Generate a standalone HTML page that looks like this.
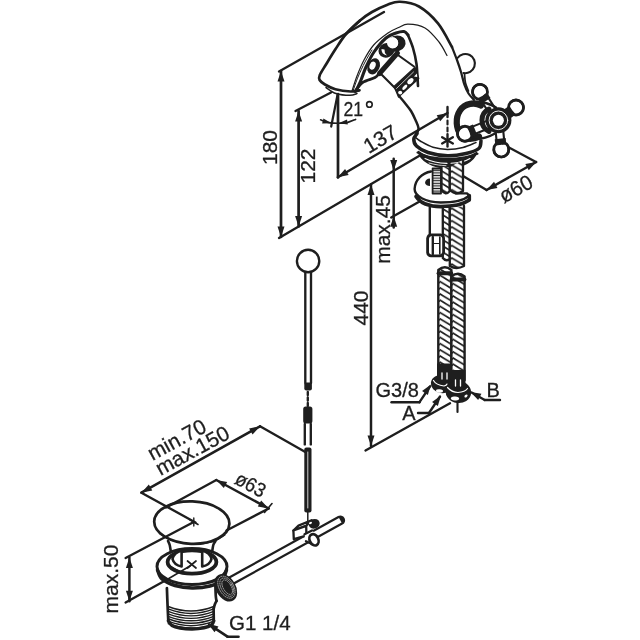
<!DOCTYPE html>
<html><head><meta charset="utf-8">
<style>
html,body{margin:0;padding:0;background:#fff;width:640px;height:640px;overflow:hidden}
svg{display:block;will-change:transform}
text{font-family:"Liberation Sans",sans-serif;fill:#1e1e1e;stroke:#1e1e1e;stroke-width:0.3}
</style></head>
<body>
<svg width="640" height="640" viewBox="0 0 640 640">
<defs>
<pattern id="hatch" x="440" y="0" width="12" height="6.2" patternUnits="userSpaceOnUse"><rect width="12" height="6.2" fill="#fff"/><path d="M-2,1.2 L14,11.2 M-2,-5 L14,5 M-2,-11.2 L14,-1.2" stroke="#1e1e1e" stroke-width="1.7" fill="none"/></pattern>
<pattern id="herr" x="453" y="2" width="12" height="6.2" patternUnits="userSpaceOnUse"><rect width="12" height="6.2" fill="#fff"/><path d="M-2,1.2 L14,11.2 M-2,-5 L14,5 M-2,-11.2 L14,-1.2" stroke="#1e1e1e" stroke-width="1.7" fill="none"/></pattern>
<pattern id="herr2" x="451.5" y="1" width="12" height="6.2" patternUnits="userSpaceOnUse"><rect width="12" height="6.2" fill="#fff"/><path d="M-2,1.2 L14,11.2 M-2,-5 L14,5 M-2,-11.2 L14,-1.2" stroke="#1e1e1e" stroke-width="1.7" fill="none"/></pattern>
<pattern id="thread" width="4" height="2.6" patternUnits="userSpaceOnUse">
<rect width="4" height="2.6" fill="#fff"/>
<line x1="0" y1="1.3" x2="4" y2="1.3" stroke="#1e1e1e" stroke-width="1.2"/>
</pattern>
</defs>
<g fill="none" stroke="#1e1e1e" stroke-width="2" stroke-linecap="round" stroke-linejoin="round">
<line x1="281" y1="237" x2="281" y2="71" stroke-width="2.71" />
<path d="M281.00,237.00 L277.50,226.50 L284.50,226.50 z" fill="#1e1e1e" stroke="none"/>
<path d="M281.00,71.00 L284.50,81.50 L277.50,81.50 z" fill="#1e1e1e" stroke="none"/>
<line x1="279" y1="71.5" x2="384" y2="12" stroke-width="2.36" />
<line x1="279" y1="238" x2="419" y2="156" stroke-width="2.36" />
<line x1="298.6" y1="226.5" x2="298.6" y2="111" stroke-width="2.71" />
<path d="M298.60,226.50 L295.10,216.00 L302.10,216.00 z" fill="#1e1e1e" stroke="none"/>
<path d="M298.60,111.00 L302.10,121.50 L295.10,121.50 z" fill="#1e1e1e" stroke="none"/>
<line x1="295.5" y1="111" x2="331" y2="92.5" stroke-width="2.36" />
<line x1="338" y1="94" x2="338" y2="177.5" stroke-width="2.71" />
<line x1="337.6" y1="94.5" x2="331.2" y2="126.5" stroke-width="2.24" />
<path d="M320.60,119.80 C322.00,120.27 326.10,122.02 329.00,122.60 C331.90,123.18 335.00,123.30 338.00,123.30 C341.00,123.30 344.07,123.25 347.00,122.60 C349.93,121.95 354.17,119.93 355.60,119.40" stroke-width="1.6" fill="none" />
<path d="M331.50,123.20 L322.14,123.48 L323.43,118.44 z" fill="#1e1e1e" stroke="none"/>
<path d="M338.50,123.30 L347.04,119.45 L347.78,124.60 z" fill="#1e1e1e" stroke="none"/>
<line x1="337.8" y1="177.2" x2="447.5" y2="113" stroke-width="2.48" />
<path d="M337.80,177.20 L345.09,168.88 L348.63,174.92 z" fill="#1e1e1e" stroke="none"/>
<path d="M447.50,113.00 L440.21,121.32 L436.67,115.28 z" fill="#1e1e1e" stroke="none"/>
<line x1="447.5" y1="107" x2="447.5" y2="117" stroke-width="2.36" />
<line x1="447.5" y1="120.5" x2="447.5" y2="132" stroke-width="2.12" stroke-dasharray="4,3"/>
<line x1="447.5" y1="134.1" x2="447.5" y2="146.5" stroke-width="2.36" />
<line x1="442.13" y1="137.2" x2="452.87" y2="143.4" stroke-width="2.36" />
<line x1="452.87" y1="137.2" x2="442.13" y2="143.4" stroke-width="2.36" />
<line x1="371" y1="184.5" x2="371" y2="446" stroke-width="2.48" />
<path d="M371.00,184.50 L374.50,195.00 L367.50,195.00 z" fill="#1e1e1e" stroke="none"/>
<path d="M371.00,446.00 L367.50,435.50 L374.50,435.50 z" fill="#1e1e1e" stroke="none"/>
<line x1="365.5" y1="450.5" x2="450" y2="403.3" stroke-width="2.36" />
<line x1="393.7" y1="158.7" x2="393.7" y2="227.5" stroke-width="2.48" />
<path d="M393.70,170.60 L390.20,160.10 L397.20,160.10 z" fill="#1e1e1e" stroke="none"/>
<path d="M393.70,216.30 L397.20,226.80 L390.20,226.80 z" fill="#1e1e1e" stroke="none"/>
<line x1="391.2" y1="217.5" x2="420" y2="201.2" stroke-width="2.36" />
<line x1="486.6" y1="190" x2="536.2" y2="162" stroke-width="2.48" />
<path d="M486.60,190.00 L494.02,181.79 L497.46,187.89 z" fill="#1e1e1e" stroke="none"/>
<path d="M536.20,162.00 L528.78,170.21 L525.34,164.11 z" fill="#1e1e1e" stroke="none"/>
<line x1="536" y1="162" x2="508" y2="147" stroke-width="2.36" />
<line x1="486.6" y1="190" x2="463" y2="176" stroke-width="2.36" />
<path d="M346.00,34.00 C348.33,31.75 355.67,24.17 360.00,20.50 C364.33,16.83 367.42,14.63 372.00,12.00 C376.58,9.37 382.83,6.40 387.50,4.70 C392.17,3.00 394.75,1.50 400.00,1.80 C405.25,2.10 412.67,2.90 419.00,6.50 C425.33,10.10 432.50,16.65 438.00,23.40 C443.50,30.15 449.67,43.07 452.00,47.00" stroke-width="2.6" fill="none" />
<path d="M360.00,20.50 C357.67,22.75 350.10,29.20 346.00,34.00 C341.90,38.80 338.73,44.22 335.40,49.30 C332.07,54.38 328.60,60.22 326.00,64.50 C323.40,68.78 320.87,72.42 319.80,75.00 C318.73,77.58 318.75,78.42 319.60,80.00 C320.45,81.58 322.27,82.97 324.90,84.50 C327.53,86.03 331.10,88.03 335.40,89.20 C339.70,90.37 346.68,91.32 350.70,91.50 C354.72,91.68 358.03,90.50 359.50,90.30" stroke-width="2.71" fill="none" />
<path d="M326.00,87.50 C327.67,88.50 332.00,92.20 336.00,93.50 C340.00,94.80 346.50,95.30 350.00,95.30 C353.50,95.30 355.83,93.80 357.00,93.50" stroke-width="1.5" fill="none" />
<path d="M356.00,91.00 C356.83,89.17 359.33,84.00 361.00,80.00 C362.67,76.00 363.83,71.67 366.00,67.00 C368.17,62.33 370.67,56.83 374.00,52.00 C377.33,47.17 382.33,41.17 386.00,38.00 C389.67,34.83 393.00,34.08 396.00,33.00 C399.00,31.92 402.00,31.17 404.00,31.50 C406.00,31.83 407.33,34.42 408.00,35.00" stroke-width="3.07" fill="none" />
<path d="M408.00,35.00 C408.83,37.17 411.58,43.17 413.00,48.00 C414.42,52.83 415.67,57.67 416.50,64.00 C417.33,70.33 417.75,82.33 418.00,86.00" stroke-width="2.6" fill="none" />
<path d="M352.00,91.00 C352.83,88.50 355.00,81.17 357.00,76.00 C359.00,70.83 361.22,65.17 364.00,60.00 C366.78,54.83 369.70,49.50 373.70,45.00 C377.70,40.50 383.83,35.92 388.00,33.00 C392.17,30.08 395.37,28.97 398.70,27.50 C402.03,26.03 403.62,24.12 408.00,24.20 C412.38,24.28 419.83,25.03 425.00,28.00 C430.17,30.97 435.33,37.42 439.00,42.00 C442.67,46.58 445.67,53.25 447.00,55.50" stroke-width="1.2" fill="none" />
<path d="M353.00,91.00 C353.83,88.67 356.00,81.83 358.00,77.00 C360.00,72.17 362.67,66.50 365.00,62.00 C367.33,57.50 370.83,52.00 372.00,50.00" stroke-width="1.0" fill="none" />
<path d="M355.00,91.50 C356.25,90.00 359.17,84.83 362.50,82.50 C365.83,80.17 372.25,79.00 375.00,77.50 C377.75,76.00 378.33,74.17 379.00,73.50" stroke-width="2.83" fill="none" />
<ellipse cx="396.3" cy="43.6" rx="9.4" ry="8" transform="rotate(-20 396.3 43.6)" stroke-width="0" fill="#1e1e1e" />
<ellipse cx="392.6" cy="42.9" rx="5.6" ry="5.6" transform="rotate(0 392.6 42.9)" stroke-width="0" fill="#fff" />
<ellipse cx="386.5" cy="50.3" rx="8.2" ry="7.2" transform="rotate(-25 386.5 50.3)" stroke-width="0" fill="#1e1e1e" />
<path d="M381.5,49 Q381,54 387,55.5 Q384,52.5 384.5,49.5 z" fill="#fff" stroke="none"/>
<ellipse cx="392.6" cy="42.9" rx="5.6" ry="5.6" transform="rotate(0 392.6 42.9)" stroke-width="0" fill="#fff" />
<ellipse cx="373.6" cy="66.3" rx="6" ry="8.4" transform="rotate(22 373.6 66.3)" stroke-width="0" fill="#1e1e1e" />
<ellipse cx="372.6" cy="65.6" rx="2.9" ry="4.2" transform="rotate(22 372.6 65.6)" stroke-width="0" fill="#fff" />
<line x1="379.5" y1="73.5" x2="397.5" y2="53" stroke-width="4.96" />
<line x1="396.5" y1="54" x2="414" y2="66.5" stroke-width="2.12" />
<line x1="381" y1="74" x2="396" y2="89" stroke-width="2.12" />
<path d="M394,86.5 L415,67.2 L418.8,78.5 L398.5,97 z" fill="#1e1e1e" stroke="#1e1e1e" stroke-width="1.2"/>
<line x1="396.5" y1="88.5" x2="413.5" y2="72" stroke-width="0.7" stroke="#fff"/>
<ellipse cx="400.2" cy="92.6" rx="2" ry="1.9" transform="rotate(0 400.2 92.6)" stroke-width="0" fill="#fff" />
<ellipse cx="404.8" cy="87.3" rx="3.2" ry="1.5" transform="rotate(-48 404.8 87.3)" stroke-width="0" fill="#fff" />
<ellipse cx="410.4" cy="81.1" rx="3.6" ry="2.3" transform="rotate(-45 410.4 81.1)" stroke-width="0" fill="#fff" />
<path d="M414,76.5 L417,73.5 L417.2,77 z" fill="#fff" stroke="none"/>
<path d="M399.00,96.00 C399.92,97.08 402.50,100.00 404.50,102.50 C406.50,105.00 409.17,108.08 411.00,111.00 C412.83,113.92 414.25,117.17 415.50,120.00 C416.75,122.83 418.25,125.75 418.50,128.00 C418.75,130.25 417.25,132.58 417.00,133.50" stroke-width="2.48" fill="none" />
<path d="M457.5,58 A9.6,9.6 0 1 1 463.5,73" stroke-width="2.1"/>
<path d="M464.50,74.00 C464.67,75.50 464.83,80.17 465.50,83.00 C466.17,85.83 468.00,89.67 468.50,91.00" stroke-width="1.7" fill="none" />
<path d="M452.00,47.00 C452.83,49.17 455.50,55.83 457.00,60.00 C458.50,64.17 459.75,67.83 461.00,72.00 C462.25,76.17 463.25,81.42 464.50,85.00 C465.75,88.58 466.92,91.00 468.50,93.50 C470.08,96.00 473.08,98.92 474.00,100.00" stroke-width="2.24" fill="none" />
<path d="M417.00,133.50 C416.47,134.42 413.88,136.92 413.80,139.00 C413.72,141.08 414.13,143.75 416.50,146.00 C418.87,148.25 422.83,150.87 428.00,152.50 C433.17,154.13 441.17,155.63 447.50,155.80 C453.83,155.97 460.78,154.72 466.00,153.50 C471.22,152.28 476.30,150.58 478.80,148.50 C481.30,146.42 480.63,142.25 481.00,141.00" stroke-width="3.54" fill="none" />
<path d="M415.00,137.00 C416.00,137.75 418.00,139.78 421.00,141.50 C424.00,143.22 428.58,145.98 433.00,147.30 C437.42,148.62 442.50,149.37 447.50,149.40 C452.50,149.43 458.25,148.65 463.00,147.50 C467.75,146.35 473.83,143.33 476.00,142.50" stroke-width="1.5" fill="none" />
<path d="M417.50,152.50 C419.58,153.25 425.00,155.93 430.00,157.00 C435.00,158.07 441.67,158.85 447.50,158.90 C453.33,158.95 460.00,158.15 465.00,157.30 C470.00,156.45 475.42,154.38 477.50,153.80" stroke-width="2.12" fill="none" />
<path d="M418.5,151.5 C420,160 432,167.5 447.5,168 C463,167.5 474,161 476.5,152.5 C470,157.5 460,159.5 447.5,159.8 C434,159.5 424,156.5 418.5,151.5 z" fill="#1e1e1e" stroke="#1e1e1e" stroke-width="1.5"/>
<path d="M425,158.5 C432,162 440,163.2 447,163.4" stroke="#fff" stroke-width="1.1"/>
<path d="M451,163.2 C459,163 465,161.5 470,158.5" stroke="#fff" stroke-width="1.1"/>
<path d="M429,163 C436,165 442,165.6 446,165.7" stroke="#fff" stroke-width="0.8"/>
<path d="M481,105.5 C475,102 465,103 460,110.5 C455,118 456,129 461,135 C465,139.5 472,140 479,136.5" stroke-width="6.2" fill="#fff"/>
<path d="M471,102 C480,101 489,103 496,107.5" stroke-width="2.4"/>
<path d="M474,139.5 C482,139 489,137 495,133.5" stroke-width="2.4"/>
<path d="M489,109 A12.5,12.5 0 0 0 489,131.5" stroke-width="5"/>
<line x1="481.7" y1="101.52" x2="489.23" y2="113.13" stroke-width="2.12" />
<line x1="488.08" y1="97.39" x2="495.61" y2="109.0" stroke-width="2.12" />
<circle cx="480" cy="91.9" r="7.5" stroke-width="2.83" fill="#fff" />
<line x1="482.39" y1="95.59" x2="485.87" y2="100.96" stroke-width="11" stroke-linecap="butt"/>
<circle cx="479.67" cy="91.4" r="5.2" stroke-width="0" fill="#fff" />
<path d="M473.71,95.98 A7.5,7.5 0 1 1 486.29,87.82" stroke-width="2.4" fill="none"/>
<line x1="506.49" y1="109.72" x2="505.06" y2="110.76" stroke-width="2.12" />
<line x1="510.96" y1="115.87" x2="509.53" y2="116.9" stroke-width="2.12" />
<circle cx="516" cy="107.5" r="7.5" stroke-width="2.83" fill="#fff" />
<line x1="512.44" y1="110.09" x2="507.27" y2="113.85" stroke-width="11" stroke-linecap="butt"/>
<circle cx="516.49" cy="107.15" r="5.2" stroke-width="0" fill="#fff" />
<path d="M511.59,101.43 A7.5,7.5 0 1 1 520.41,113.57" stroke-width="2.4" fill="none"/>
<line x1="504.15" y1="140.07" x2="503.25" y2="130.88" stroke-width="2.12" />
<line x1="496.59" y1="140.81" x2="495.69" y2="131.62" stroke-width="2.12" />
<circle cx="501.25" cy="149.4" r="7.5" stroke-width="2.83" fill="#fff" />
<line x1="500.82" y1="145.02" x2="500.20" y2="138.65" stroke-width="11" stroke-linecap="butt"/>
<circle cx="501.31" cy="150.0" r="5.2" stroke-width="0" fill="#fff" />
<path d="M508.71,148.67 A7.5,7.5 0 1 1 493.79,150.13" stroke-width="2.4" fill="none"/>
<line x1="474.77" y1="133.91" x2="489.62" y2="127.93" stroke-width="2.12" />
<line x1="471.93" y1="126.86" x2="486.78" y2="120.88" stroke-width="2.12" />
<circle cx="465" cy="133.75" r="7.5" stroke-width="2.83" fill="#fff" />
<line x1="469.08" y1="132.11" x2="475.02" y2="129.72" stroke-width="11" stroke-linecap="butt"/>
<circle cx="464.44" cy="133.97" r="5.2" stroke-width="0" fill="#fff" />
<path d="M467.80,140.71 A7.5,7.5 0 1 1 462.20,126.79" stroke-width="2.4" fill="none"/>
<circle cx="498.4" cy="120.3" r="13" stroke-width="0" fill="#1e1e1e" />
<circle cx="498.4" cy="120.3" r="9.3" stroke-width="0.9" fill="none" stroke="#fff"/>
<circle cx="498.4" cy="120.3" r="5.5" stroke-width="0" fill="#fff" />
<path d="M431,171.5 C422,173 415,180 414.6,189 C414.6,196 425,202 440.8,202.5 C452,202.5 463,201 469.3,195.6 L467,193.4 L456,193.4 L441,193.4 L441,171 z" fill="#fff" stroke="none"/>
<path d="M431,171.5 C422,173 415,180 414.6,189 C414.6,196 425,202 440.8,202.5 C452,202.5 463,201 469.3,195.6 L467,193.4 L456,193.4" stroke-width="2.4" fill="none"/>
<rect x="432.6" y="168.5" width="8.4" height="25" fill="url(#thread)" stroke-width="1.8"/>
<path d="M441.5,167 L441.5,190 Q445.5,196 449.8,191 L449.8,167" fill="url(#hatch)" stroke-width="2.3"/>
<path d="M449.8,167 L449.8,190 Q456,196 463,191 L463,160" fill="url(#herr2)" stroke-width="2.3"/>
<path d="M416,196.5 C421,204 431,206.6 440.8,206.6 C452,206.6 463,204.5 469.3,200 L469.3,195.6" stroke-width="3.6" fill="none"/>
<path d="M425,183 Q425.5,178.5 430,178.5 L430,186 Q426,186 425,183 z" fill="#1e1e1e" stroke="none"/>
<path d="M429.8,207.5 L429.8,236" stroke-width="2.4"/>
<path d="M442.8,208 L442.8,258 Q446,262 449.8,259 L449.8,208" fill="url(#hatch)" stroke-width="2.3"/>
<path d="M449.8,208 L449.8,266 Q456.5,270 464,266 L464,206" fill="url(#herr2)" stroke-width="2.3"/>
<path d="M427.6,238.5 Q428,235 431,234.8 L440.5,234.8 Q443.6,235 443.6,238.5 L443.6,252.5 Q443,255.6 440,255.8 L431,255.8 Q428,255.6 427.6,252.5 z" fill="#fff" stroke-width="2.8"/>
<line x1="432.8" y1="237" x2="432.8" y2="254" stroke-width="2.36" />
<line x1="439.8" y1="237" x2="439.8" y2="254" stroke-width="1.6" />
<line x1="433" y1="243.5" x2="439.5" y2="243.5" stroke-width="1.0" />
<path d="M438.3,372 L438.3,270 Q444.9,264.5 451.4,270 L451.4,372" fill="url(#hatch)" stroke-width="2.4"/>
<line x1="438.6" y1="273.2" x2="451.2" y2="273.2" stroke-width="4.01" />
<path d="M451.4,380 L451.4,276.5 Q458,271 464.6,276.5 L464.6,380" fill="url(#herr)" stroke-width="2.4"/>
<line x1="451.6" y1="279.6" x2="464.4" y2="279.6" stroke-width="4.01" />
<rect x="437" y="363.5" width="14.8" height="18" fill="#1e1e1e" stroke="none"/>
<rect x="450.5" y="370" width="15" height="18" fill="#1e1e1e" stroke="none"/>
<ellipse cx="442" cy="384" rx="11.2" ry="9.2" transform="rotate(8 442 384)" stroke-width="0" fill="#1e1e1e" />
<ellipse cx="458.4" cy="392" rx="12.8" ry="11" transform="rotate(8 458.4 392)" stroke-width="0" fill="#1e1e1e" />
<path d="M433.5,380.5 Q436,385 444,386 Q446.5,385.5 447,384" stroke="#fff" stroke-width="1.2"/>
<path d="M447.5,387.5 Q452,392.5 458,392.5 Q465,392 467.5,388.5" stroke="#fff" stroke-width="1.2"/>
<ellipse cx="439.5" cy="391" rx="3.6" ry="1.7" transform="rotate(5 439.5 391)" stroke-width="0" fill="#fff" />
<ellipse cx="455" cy="398.5" rx="4.2" ry="1.9" transform="rotate(5 455 398.5)" stroke-width="0" fill="#fff" />
<ellipse cx="466" cy="396" rx="1.8" ry="1.2" transform="rotate(-40 466 396)" stroke-width="0" fill="#fff" />
<line x1="442" y1="373" x2="442" y2="379" stroke-width="1.3" stroke="#fff"/>
<line x1="447" y1="373" x2="447" y2="379" stroke-width="1.3" stroke="#fff"/>
<line x1="455.5" y1="380" x2="455.5" y2="386" stroke-width="1.3" stroke="#fff"/>
<line x1="460.5" y1="380" x2="460.5" y2="386" stroke-width="1.3" stroke="#fff"/>
<line x1="457.5" y1="403" x2="457.5" y2="412" stroke-width="2.12" />
<line x1="391.5" y1="402.2" x2="419.5" y2="402.2" stroke-width="2.36" />
<line x1="419.5" y1="402.2" x2="430" y2="386.5" stroke-width="2.36" />
<path d="M431.00,384.50 L427.80,395.10 L422.09,391.06 z" fill="#1e1e1e" stroke="none"/>
<line x1="418" y1="413" x2="429" y2="413" stroke-width="2.36" />
<line x1="429" y1="413" x2="440" y2="396.5" stroke-width="2.36" />
<path d="M441.00,395.50 L437.80,406.10 L432.09,402.06 z" fill="#1e1e1e" stroke="none"/>
<line x1="500" y1="400" x2="484.7" y2="400" stroke-width="2.36" />
<line x1="484.7" y1="400" x2="471.6" y2="392.5" stroke-width="2.36" />
<path d="M470.50,392.00 L481.42,393.79 L478.16,399.99 z" fill="#1e1e1e" stroke="none"/>
<circle cx="308.1" cy="261" r="11.2" stroke-width="2.36" fill="none" />
<line x1="305.3" y1="272.5" x2="305.3" y2="383" stroke-width="2.36" />
<line x1="311" y1="272.5" x2="311" y2="383" stroke-width="2.36" />
<rect x="304.3" y="382.5" width="7.6" height="8" rx="2" fill="#1e1e1e" stroke="none"/>
<line x1="307.8" y1="392" x2="307.8" y2="406" stroke-width="2.36" stroke-dasharray="3,2.5"/>
<rect x="303.2" y="406.5" width="9.2" height="17" rx="2.5" fill="#1e1e1e" stroke="none"/>
<line x1="304.8" y1="424" x2="304.8" y2="444.4" stroke-width="2.36" />
<line x1="310.8" y1="424" x2="310.8" y2="444.4" stroke-width="2.36" />
<rect x="304.3" y="447.5" width="7.2" height="65" rx="2" fill="#1e1e1e" stroke="none"/>
<line x1="307.8" y1="452" x2="307.8" y2="508" stroke-width="0.8" stroke="#fff"/>
<line x1="307.8" y1="512" x2="307.8" y2="521" stroke-width="1.5" />
<line x1="141.4" y1="492.7" x2="260" y2="426.3" stroke-width="2.48" />
<path d="M141.40,492.70 L148.85,484.52 L152.27,490.62 z" fill="#1e1e1e" stroke="none"/>
<path d="M260.00,426.30 L252.55,434.48 L249.13,428.38 z" fill="#1e1e1e" stroke="none"/>
<line x1="260" y1="426.3" x2="305.3" y2="452" stroke-width="2.36" />
<line x1="141.4" y1="492.7" x2="195.5" y2="522.5" stroke-width="2.36" />
<line x1="216.3" y1="480" x2="268.7" y2="508.5" stroke-width="2.48" />
<path d="M216.30,480.00 L227.20,481.94 L223.85,488.09 z" fill="#1e1e1e" stroke="none"/>
<path d="M268.70,508.50 L257.80,506.56 L261.15,500.41 z" fill="#1e1e1e" stroke="none"/>
<line x1="216.3" y1="480" x2="166" y2="507.5" stroke-width="2.36" />
<line x1="268.7" y1="508.5" x2="226.5" y2="530.5" stroke-width="2.36" />
<line x1="264.5" y1="512.5" x2="272" y2="503.5" stroke-width="1.6" />
<line x1="129.4" y1="557.5" x2="129.4" y2="601.2" stroke-width="2.48" />
<path d="M129.40,557.50 L132.90,568.00 L125.90,568.00 z" fill="#1e1e1e" stroke="none"/>
<path d="M129.40,601.20 L125.90,590.70 L132.90,590.70 z" fill="#1e1e1e" stroke="none"/>
<line x1="125.6" y1="558" x2="193.75" y2="522" stroke-width="2.36" />
<line x1="125.6" y1="602.5" x2="168" y2="579" stroke-width="2.36" />
<ellipse cx="191.8" cy="522.6" rx="37.6" ry="21.2" transform="rotate(2 191.8 522.6)" stroke-width="2.71" fill="none" />
<path d="M160.00,534.00 C162.00,535.08 166.67,538.80 172.00,540.50 C177.33,542.20 185.33,543.95 192.00,544.20 C198.67,544.45 206.50,543.53 212.00,542.00 C217.50,540.47 222.83,536.17 225.00,535.00" stroke-width="1.2" fill="none" />
<line x1="189.5" y1="519.5" x2="198" y2="524.5" stroke-width="1.6" />
<line x1="193.8" y1="518" x2="193.8" y2="526" stroke-width="1.4" />
<path d="M168.00,541.00 C168.28,541.67 169.20,543.05 169.70,545.00 C170.20,546.95 170.78,551.42 171.00,552.70" stroke-width="2.6" fill="none" />
<path d="M215.50,541.00 C215.13,541.67 213.88,543.05 213.30,545.00 C212.72,546.95 212.22,551.42 212.00,552.70" stroke-width="2.6" fill="none" />
<ellipse cx="192" cy="566.5" rx="35" ry="18" transform="rotate(0 192 566.5)" stroke-width="2.95" fill="#fff" />
<path d="M157.50,570.00 C158.25,571.50 159.08,576.42 162.00,579.00 C164.92,581.58 170.00,584.00 175.00,585.50 C180.00,587.00 186.17,587.92 192.00,588.00 C197.83,588.08 205.00,587.33 210.00,586.00 C215.00,584.67 219.25,582.67 222.00,580.00 C224.75,577.33 225.75,571.67 226.50,570.00" stroke-width="3.54" fill="none" />
<path d="M159.00,574.00 C160.83,575.17 164.50,579.17 170.00,581.00 C175.50,582.83 184.67,584.83 192.00,585.00 C199.33,585.17 208.50,583.83 214.00,582.00 C219.50,580.17 223.17,575.33 225.00,574.00" stroke-width="1.0" fill="none" />
<ellipse cx="192" cy="562" rx="24.4" ry="11.6" transform="rotate(0 192 562)" stroke-width="3.78" fill="#fff" />
<path d="M170.00,566.00 C171.67,566.92 176.33,570.33 180.00,571.50 C183.67,572.67 187.83,573.00 192.00,573.00 C196.17,573.00 201.33,572.67 205.00,571.50 C208.67,570.33 212.50,566.92 214.00,566.00" stroke-width="1.3" fill="none" />
<path d="M181.6,550.5 L181.6,566.5 Q174,565 172.5,559 Q174,552.5 181.6,550.5 z" stroke-width="2.6" fill="#fff"/>
<path d="M202.2,550.5 L202.2,566.5 Q210,565 211.5,559 Q210,552.5 202.2,550.5 z" stroke-width="2.6" fill="#fff"/>
<line x1="187.5" y1="561" x2="196" y2="568" stroke-width="1.7" />
<line x1="196" y1="561" x2="187.5" y2="568" stroke-width="1.7" />
<line x1="168" y1="579" x2="190" y2="566" stroke-width="1.6" />
<path d="M166.90,588.00 C167.00,590.67 167.27,598.50 167.50,604.00 C167.73,609.50 168.17,618.17 168.30,621.00" stroke-width="2.71" fill="none" />
<path d="M215.40,586.00 C215.47,587.67 215.62,593.50 215.80,596.00 C215.98,598.50 216.38,600.17 216.50,601.00" stroke-width="2.71" fill="none" />
<path d="M216.50,601.00 C216.22,601.58 215.28,603.17 214.80,604.50 C214.32,605.83 213.80,608.25 213.60,609.00" stroke-width="2.71" fill="none" />
<line x1="213.6" y1="609" x2="213.8" y2="621" stroke-width="2.71" />
<path d="M168.2,606.50 Q191,615.50 213.8,606.50" stroke-width="1.35"/>
<path d="M168.2,608.95 Q191,617.95 213.8,608.95" stroke-width="1.35"/>
<path d="M168.2,611.40 Q191,620.40 213.8,611.40" stroke-width="1.35"/>
<path d="M168.2,613.85 Q191,622.85 213.8,613.85" stroke-width="1.35"/>
<path d="M168.2,616.30 Q191,625.30 213.8,616.30" stroke-width="1.35"/>
<path d="M168.2,618.75 Q191,627.75 213.8,618.75" stroke-width="1.35"/>
<path d="M168.2,621.20 Q191,630.20 213.8,621.20" stroke-width="1.35"/>
<path d="M168.2,623.65 Q191,632.65 213.8,623.65" stroke-width="1.35"/>
<path d="M168.30,621.00 C168.92,621.75 170.05,624.33 172.00,625.50 C173.95,626.67 176.67,627.42 180.00,628.00 C183.33,628.58 188.00,629.00 192.00,629.00 C196.00,629.00 200.83,628.58 204.00,628.00 C207.17,627.42 209.37,626.67 211.00,625.50 C212.63,624.33 213.33,621.75 213.80,621.00" stroke-width="3.3" fill="none" />
<path d="M231.5,580.5 L340.3,520.3" stroke-width="9.6"/>
<path d="M231.5,580.5 L340.3,520.3" stroke-width="5.2" stroke="#fff" stroke-linecap="butt"/>
<ellipse cx="225.8" cy="587.8" rx="10" ry="14.8" transform="rotate(-30 225.8 587.8)" stroke-width="0" fill="#1e1e1e" />
<ellipse cx="226.4" cy="587.2" rx="7.2" ry="12" transform="rotate(-30 226.4 587.2)" stroke-width="0.8" fill="none" stroke="#bbb" stroke-dasharray="0.9,1.3"/>
<ellipse cx="226.8" cy="587.2" rx="5.6" ry="10" transform="rotate(-30 226.8 587.2)" stroke-width="0.8" fill="none" stroke="#bbb" stroke-dasharray="0.9,1.3"/>
<ellipse cx="227.20000000000002" cy="587.2" rx="4" ry="8" transform="rotate(-30 227.20000000000002 587.2)" stroke-width="0.8" fill="none" stroke="#bbb" stroke-dasharray="0.9,1.3"/>
<ellipse cx="314.2" cy="523.8" rx="5.6" ry="4.8" transform="rotate(-20 314.2 523.8)" stroke-width="0" fill="#1e1e1e" />
<path d="M293.4,530.5 L298.5,525.6 L311.5,520.3 L306.2,525.8 z" fill="#fff" stroke-width="2.3"/>
<path d="M293.4,530.5 L306.2,525.8 L306.4,535.5 L293.8,539.2 z" fill="#fff" stroke-width="2.3"/>
<ellipse cx="310.5" cy="523" rx="1.6" ry="1.0" transform="rotate(-20 310.5 523)" stroke-width="0" fill="#fff" />
<path d="M304.5,534.2 L312,530.2 L318,536.5 L311,543.8 L305.5,541 z" fill="#fff" stroke="none"/>
<line x1="304.5" y1="534.2" x2="312" y2="530.5" stroke-width="2.36" />
<line x1="306" y1="541.2" x2="312.5" y2="544.2" stroke-width="2.36" />
<ellipse cx="314" cy="539.8" rx="4.3" ry="5.9" transform="rotate(-25 314 539.8)" stroke-width="2.71" fill="#fff" />
<path d="M207.80,623.40 L218.45,626.40 L214.52,632.19 z" fill="#1e1e1e" stroke="none"/>
<line x1="209" y1="624.3" x2="227.5" y2="636.7" stroke-width="2.6" />
<line x1="227.5" y1="636.7" x2="238.5" y2="636.7" stroke-width="2.6" />
<circle cx="369.4" cy="104.4" r="2.8" stroke-width="1.6" fill="none" />
</g>
<text transform="translate(277.3,147.5) rotate(-90) scale(1.0,1)" font-size="21" text-anchor="middle">180</text>
<text transform="translate(315.2,166) rotate(-90) scale(1.0,1)" font-size="21" text-anchor="middle">122</text>
<text transform="translate(353.2,115.6) rotate(0) scale(0.86,1)" font-size="20.5" text-anchor="middle">21</text>
<text transform="translate(368.8,154) rotate(-30.5) scale(1.0,1)" font-size="21" text-anchor="start">137</text>
<text transform="translate(368.3,308) rotate(-90) scale(1.0,1)" font-size="21" text-anchor="middle">440</text>
<text transform="translate(389.5,229.4) rotate(-90) scale(1.0,1)" font-size="21" text-anchor="middle">max.45</text>
<text transform="translate(504,203.5) rotate(-29) scale(0.97,1)" font-size="21" text-anchor="start">ø60</text>
<text transform="translate(397.2,397) rotate(0) scale(1.0,1)" font-size="20" text-anchor="middle">G3/8</text>
<text transform="translate(409,419.5) rotate(0) scale(1.0,1)" font-size="20" text-anchor="middle">A</text>
<text transform="translate(493.2,396.6) rotate(0) scale(1.0,1)" font-size="20" text-anchor="middle">B</text>
<text transform="translate(152.5,461) rotate(-28.5) scale(1.0,1)" font-size="21" text-anchor="start">min.70</text>
<text transform="translate(160.5,476) rotate(-28.5) scale(1.0,1)" font-size="21" text-anchor="start">max.150</text>
<text transform="translate(233.5,483) rotate(28.5) scale(0.92,1)" font-size="20" text-anchor="start">ø63</text>
<text transform="translate(118.2,579) rotate(-90) scale(1.0,1)" font-size="21" text-anchor="middle">max.50</text>
<text transform="translate(259.8,629.7) rotate(0) scale(1.0,1)" font-size="20.5" text-anchor="middle">G1 1/4</text>
</svg>
</body></html>
